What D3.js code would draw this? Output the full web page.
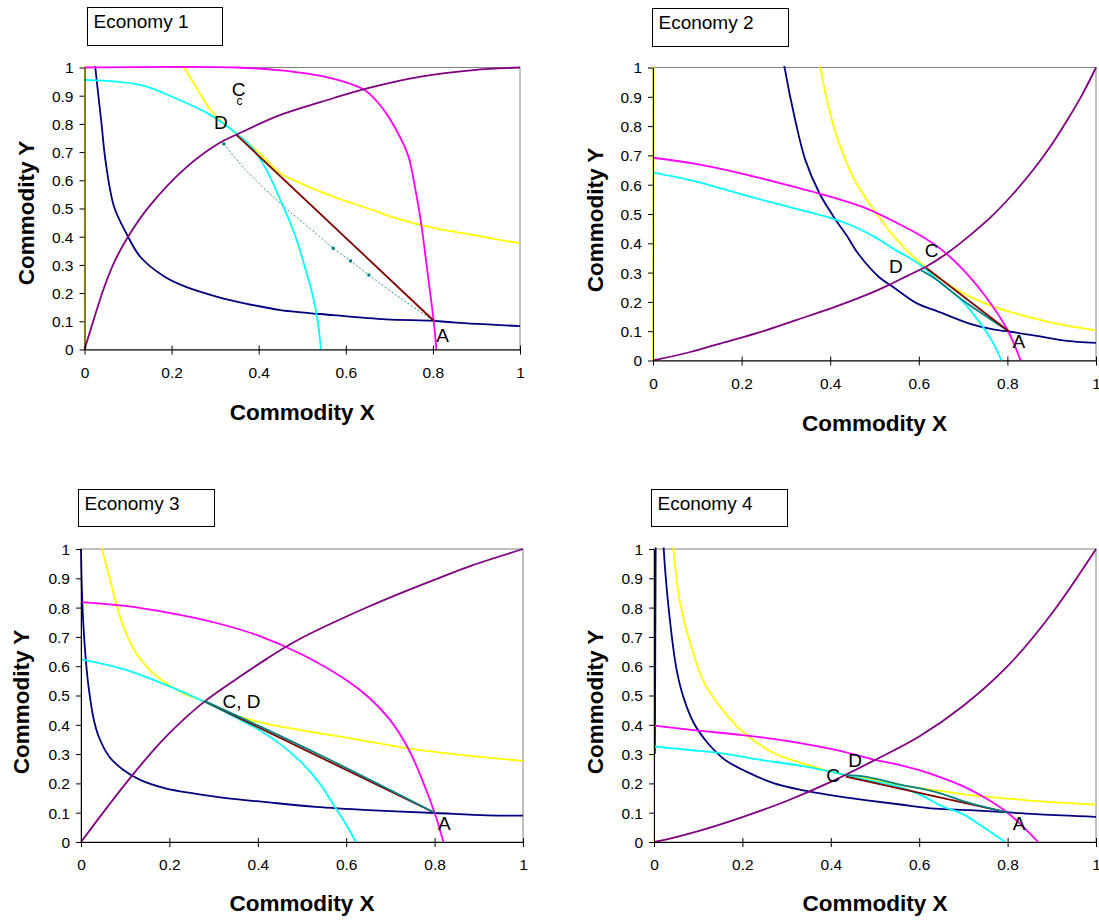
<!DOCTYPE html>
<html><head><meta charset="utf-8">
<script src="https://cdn.jsdelivr.net/npm/d3@7"></script>
<style>
body{margin:0;background:#fff}
svg{display:block}
text{font-family:"Liberation Sans",Arial,sans-serif;fill:#000}
</style>
</head><body>
<svg id="chart" width="1099" height="922"></svg>
<script>
// ---------- shared axis data ----------
const xTickValues = [0, 0.2, 0.4, 0.6, 0.8, 1];
const xTickLabels = ["0", "0.2", "0.4", "0.6", "0.8", "1"];
const yTickValues = [0, 0.1, 0.2, 0.3, 0.4, 0.5, 0.6, 0.7, 0.8, 0.9, 1];
const yTickLabels = ["0", "0.1", "0.2", "0.3", "0.4", "0.5", "0.6", "0.7", "0.8", "0.9", "1"];
const panelTitles = ["Economy 1", "Economy 2", "Economy 3", "Economy 4"];
const xAxisTitle = "Commodity X";
const yAxisTitle = "Commodity Y";

// ---------- Economy 1 ----------
const e1Yellow = [[0,0],[0.0008,1.1],null,[0.222,1.02],[0.229,1.0],[0.257,0.929],[0.289,0.85],[0.32,0.8],[0.353,0.761],[0.402,0.696],[0.45,0.625],[0.506,0.583],[0.571,0.542],[0.651,0.5],[0.716,0.465],[0.804,0.43],[0.893,0.406],[1,0.376]];
const e1Navy = [[0.023,1.05],[0.025,1.0],[0.039,0.802],[0.048,0.672],[0.068,0.506],[0.096,0.412],[0.128,0.329],[0.184,0.258],[0.233,0.222],[0.305,0.187],[0.37,0.163],[0.45,0.14],[0.571,0.122],[0.692,0.107],[0.802,0.102],[0.853,0.095],[1,0.083]];
const e1Magenta = [[0,1.0],[0.35,1.0],[0.45,0.99],[0.555,0.966],[0.643,0.92],[0.684,0.856],[0.72,0.767],[0.744,0.684],[0.76,0.566],[0.772,0.459],[0.788,0.27],[0.802,0.098],[0.808,0]];
const e1Cyan = [[0,0.956],[0.128,0.938],[0.209,0.891],[0.289,0.832],[0.353,0.761],[0.386,0.714],[0.418,0.637],[0.45,0.53],[0.482,0.412],[0.506,0.293],[0.523,0.199],[0.535,0.104],[0.543,0]];
const e1Purple = [[0,0],[0.02,0.1],[0.045,0.22],[0.07,0.315],[0.1,0.4],[0.15,0.51],[0.233,0.645],[0.305,0.728],[0.353,0.765],[0.45,0.832],[0.571,0.891],[0.651,0.927],[0.772,0.968],[0.893,0.991],[1,1]];
const e1Brown = [[0.349,0.761],[0.802,0.102]];
const e1Teal = [[0.32,0.729],[0.37,0.637],[0.45,0.518],[0.531,0.412],[0.571,0.359],[0.611,0.314],[0.653,0.264],[0.732,0.175],[0.802,0.102]];
const e1TealMarks = [[0.32,0.729],[0.571,0.359],[0.611,0.314],[0.653,0.264]];
const e1Labels = [["C",0.354,0.921,19],["c",0.356,0.883,12],["D",0.313,0.804,19],["A",0.822,0.051,19]];

// ---------- Economy 2 ----------
const e2Yellow = [[0,0],[0.0015,1.1],null,[0.374,1.04],[0.378,1.0],[0.4,0.844],[0.423,0.73],[0.455,0.616],[0.502,0.507],[0.558,0.399],[0.605,0.331],[0.637,0.291],[0.676,0.251],[0.716,0.217],[0.771,0.182],[0.834,0.154],[0.913,0.125],[1,0.103]];
const e2Navy = [[0.293,1.04],[0.297,1.0],[0.321,0.821],[0.344,0.684],[0.376,0.57],[0.408,0.49],[0.439,0.422],[0.463,0.365],[0.51,0.285],[0.542,0.251],[0.597,0.194],[0.637,0.171],[0.716,0.125],[0.771,0.105],[0.803,0.099],[0.874,0.082],[0.929,0.068],[1,0.06]];
const e2Magenta = [[0,0.692],[0.1,0.67],[0.2,0.638],[0.3,0.6],[0.4,0.559],[0.48,0.52],[0.55,0.47],[0.6,0.43],[0.65,0.38],[0.7,0.31],[0.75,0.22],[0.8,0.105],[0.83,0]];
const e2Cyan = [[0,0.641],[0.1,0.61],[0.2,0.567],[0.3,0.527],[0.4,0.487],[0.45,0.46],[0.5,0.422],[0.55,0.375],[0.6,0.33],[0.65,0.265],[0.7,0.2],[0.74,0.125],[0.765,0.068],[0.787,0]];
const e2Purple = [[0,0],[0.084,0.029],[0.163,0.063],[0.242,0.097],[0.321,0.137],[0.4,0.177],[0.479,0.222],[0.526,0.253],[0.573,0.288],[0.617,0.321],[0.66,0.362],[0.716,0.428],[0.763,0.49],[0.81,0.564],[0.858,0.65],[0.897,0.73],[0.937,0.825],[0.968,0.905],[1,1]];
const e2Brown = [[0.617,0.316],[0.803,0.1]];
const e2Teal = [[0.605,0.308],[0.637,0.279],[0.7,0.205],[0.755,0.148],[0.803,0.1]];
const e2Labels = [["C",0.629,0.377,19],["D",0.548,0.32,19],["A",0.826,0.064,19]];

// ---------- Economy 3 ----------
const e3Yellow = [[0.044,1.05],[0.048,1.0],[0.064,0.909],[0.088,0.771],[0.12,0.657],[0.167,0.571],[0.23,0.509],[0.278,0.48],[0.333,0.44],[0.413,0.406],[0.492,0.383],[0.61,0.354],[0.729,0.322],[0.848,0.299],[1,0.277]];
const e3Navy = [[0,1.0],[0.003,0.817],[0.009,0.657],[0.017,0.531],[0.029,0.417],[0.04,0.36],[0.064,0.291],[0.096,0.246],[0.135,0.211],[0.191,0.183],[0.254,0.166],[0.333,0.149],[0.413,0.137],[0.531,0.12],[0.65,0.109],[0.8,0.099],[0.919,0.091],[1,0.09]];
const e3Magenta = [[0,0.819],[0.1,0.806],[0.2,0.782],[0.3,0.75],[0.4,0.705],[0.5,0.64],[0.6,0.553],[0.65,0.495],[0.7,0.415],[0.74,0.32],[0.77,0.22],[0.8,0.1],[0.82,0]];
const e3Cyan = [[0,0.623],[0.1,0.588],[0.2,0.531],[0.28,0.478],[0.35,0.425],[0.4,0.385],[0.45,0.335],[0.5,0.27],[0.54,0.2],[0.57,0.13],[0.6,0.06],[0.622,0]];
const e3Purple = [[0,0],[0.06,0.12],[0.12,0.235],[0.18,0.34],[0.23,0.415],[0.28,0.48],[0.35,0.555],[0.42,0.625],[0.46,0.663],[0.5,0.697],[0.571,0.749],[0.65,0.803],[0.729,0.853],[0.808,0.9],[0.888,0.946],[1,1]];
const e3Brown = [[0.28,0.48],[0.8,0.1]];
const e3Teal = [[0.28,0.481],[0.4,0.398],[0.55,0.29],[0.7,0.177],[0.8,0.1]];
const e3Labels = [["C, D",0.363,0.479,19],["A",0.822,0.064,19]];

// ---------- Economy 4 ----------
const e4Yellow = [[0,0],[0.004,1.1],null,[0.042,1.05],[0.044,1.0],[0.059,0.817],[0.082,0.68],[0.114,0.543],[0.161,0.44],[0.209,0.366],[0.272,0.303],[0.335,0.269],[0.399,0.24],[0.478,0.217],[0.557,0.194],[0.636,0.177],[0.715,0.16],[0.794,0.149],[0.873,0.139],[1,0.128]];
const e4Navy = [[0.002,0.3],[0.004,1.1],null,[0.021,1.05],[0.022,1.0],[0.035,0.771],[0.051,0.589],[0.066,0.497],[0.09,0.406],[0.122,0.337],[0.161,0.28],[0.209,0.24],[0.272,0.2],[0.335,0.177],[0.399,0.16],[0.478,0.143],[0.557,0.128],[0.636,0.114],[0.715,0.109],[0.802,0.101],[0.873,0.094],[1,0.086]];
const e4Magenta = [[0,0.397],[0.1,0.38],[0.2,0.365],[0.3,0.345],[0.4,0.318],[0.45,0.3],[0.5,0.28],[0.55,0.265],[0.6,0.245],[0.65,0.22],[0.7,0.19],[0.75,0.15],[0.8,0.1],[0.84,0.045],[0.869,0]];
const e4Cyan = [[0,0.326],[0.082,0.314],[0.161,0.301],[0.241,0.28],[0.32,0.263],[0.399,0.24],[0.478,0.213],[0.557,0.187],[0.604,0.16],[0.652,0.122],[0.699,0.095],[0.739,0.057],[0.794,0]];
const e4Purple = [[0,0],[0.05,0.017],[0.1,0.037],[0.2,0.085],[0.3,0.14],[0.4,0.205],[0.5,0.28],[0.6,0.36],[0.7,0.465],[0.8,0.6],[0.9,0.78],[1,1]];
const e4Brown = [[0.434,0.223],[0.802,0.1]];
const e4Teal = [[0.434,0.228],[0.478,0.223],[0.557,0.196],[0.636,0.171],[0.715,0.133],[0.802,0.1]];
const e4Labels = [["D",0.455,0.28,19],["C",0.405,0.229,19],["A",0.826,0.064,19]];

// ---------- colours ----------
const colors = {yellow:"#FFFF00", navy:"#000080", magenta:"#FF00FF", cyan:"#00FFFF", purple:"#800080", brown:"#800000", teal:"#008080"};

// ---------- layout (pixels) ----------
const layouts = [
  {x0:84.5, x1:520, yT:67.5, yB:349.5, box:[87.5,7.5,135,38], yTitleX:26, yTitleY:213, xTitleY:412},
  {x0:653, x1:1096, yT:67.5, yB:360.5, box:[652.5,8.5,136,38], yTitleX:595, yTitleY:220, xTitleY:423},
  {x0:81, x1:523, yT:549, yB:842, box:[78.5,489.5,136,37], yTitleX:21, yTitleY:702, xTitleY:903},
  {x0:654, x1:1096, yT:549, yB:842, box:[651.5,489.5,136,37], yTitleX:595, yTitleY:702, xTitleY:903}
];

const panels = [
  {series:[["yellow",e1Yellow],["navy",e1Navy],["magenta",e1Magenta],["cyan",e1Cyan],["purple",e1Purple],["teal",e1Teal,true],["brown",e1Brown]], marks:e1TealMarks, labels:e1Labels},
  {series:[["yellow",e2Yellow],["navy",e2Navy],["magenta",e2Magenta],["cyan",e2Cyan],["purple",e2Purple],["teal",e2Teal],["brown",e2Brown]], marks:[], labels:e2Labels},
  {series:[["yellow",e3Yellow],["navy",e3Navy],["magenta",e3Magenta],["cyan",e3Cyan],["purple",e3Purple],["brown",e3Brown],["teal",e3Teal]], marks:[], labels:e3Labels},
  {series:[["yellow",e4Yellow],["navy",e4Navy],["magenta",e4Magenta],["cyan",e4Cyan],["purple",e4Purple],["brown",e4Brown],["teal",e4Teal]], marks:[], labels:e4Labels}
];

const svg = d3.select("#chart");
const defs = svg.append("defs");

panels.forEach((p, i) => {
  const L = layouts[i];
  const xs = d3.scaleLinear().domain([0, 1]).range([L.x0, L.x1]);
  const ys = d3.scaleLinear().domain([0, 1]).range([L.yB, L.yT]);
  const g = svg.append("g");

  g.append("rect").attr("x", L.box[0]).attr("y", L.box[1]).attr("width", L.box[2]).attr("height", L.box[3])
    .attr("fill", "#fff").attr("stroke", "#000").attr("stroke-width", 1);
  g.append("text").attr("x", L.box[0] + 6).attr("y", L.box[1] + 20)
    .attr("font-size", 19).text(panelTitles[i]);

  g.append("rect").attr("x", L.x0).attr("y", L.yT).attr("width", L.x1 - L.x0).attr("height", L.yB - L.yT)
    .attr("fill", "none").attr("stroke", "#808080").attr("stroke-width", 1);

  const cid = "clip" + i;
  defs.append("clipPath").attr("id", cid).append("rect")
    .attr("x", L.x0 - 1).attr("y", L.yT - 1.5).attr("width", L.x1 - L.x0 + 2).attr("height", L.yB - L.yT + 2.5);

  const plot = g.append("g").attr("clip-path", `url(#${cid})`);
  const lineCurve = d3.line().defined(d => d !== null).x(d => xs(d[0])).y(d => ys(d[1])).curve(d3.curveCatmullRom.alpha(0.5));
  const lineStraight = d3.line().x(d => xs(d[0])).y(d => ys(d[1]));

  p.series.forEach(([c, data, dotted]) => {
    const path = plot.append("path")
      .attr("d", (c === "brown" ? lineStraight : lineCurve)(data))
      .attr("fill", "none").attr("stroke", colors[c])
      .attr("stroke-width", dotted ? 1 : 1.8).attr("stroke-linejoin", "round");
    if (dotted) path.attr("stroke-dasharray", "2,2").attr("stroke", "#2a9090");
  });
  plot.selectAll(".mk").data(p.marks).enter().append("rect")
    .attr("x", d => xs(d[0]) - 1.5).attr("y", d => ys(d[1]) - 1.5).attr("width", 3).attr("height", 3)
    .attr("fill", colors.teal);

  const xAxis = d3.axisBottom(xs).tickValues(xTickValues).tickFormat((d, k) => xTickLabels[k]).tickSizeInner(0).tickSizeOuter(0);
  const yAxis = d3.axisLeft(ys).tickValues(yTickValues).tickFormat((d, k) => yTickLabels[k]).tickSizeInner(5).tickSizeOuter(0);

  const gx = g.append("g").attr("transform", `translate(0,${L.yB})`).call(xAxis);
  gx.select(".domain").attr("stroke", "#000");
  gx.selectAll(".tick line").remove();
  gx.selectAll(".tick").append("line").attr("y1", -4).attr("y2", 5).attr("stroke", "#000");
  gx.selectAll(".tick text").attr("font-size", 15.5).attr("font-family", "Liberation Sans, Arial, sans-serif")
    .attr("y", 23).attr("dy", "0.35em").attr("fill", "#000");

  const gy = g.append("g").attr("transform", `translate(${L.x0},0)`).call(yAxis);
  gy.select(".domain").attr("stroke", "#000");
  gy.selectAll(".tick line").attr("stroke", "#000");
  gy.selectAll(".tick text").attr("font-size", 15.5).attr("font-family", "Liberation Sans, Arial, sans-serif")
    .attr("x", -11).attr("dy", "0.35em").attr("fill", "#000");

  g.append("text").attr("x", (L.x0 + L.x1) / 2).attr("y", L.xTitleY).attr("dy", "0.35em")
    .attr("text-anchor", "middle").attr("font-size", 22.5).attr("font-weight", "bold").text(xAxisTitle);
  g.append("text").attr("transform", `translate(${L.yTitleX},${L.yTitleY}) rotate(-90)`).attr("dy", "0.35em")
    .attr("text-anchor", "middle").attr("font-size", 22.5).attr("font-weight", "bold").text(yAxisTitle);

  g.selectAll(".lbl").data(p.labels).enter().append("text")
    .attr("x", d => xs(d[1])).attr("y", d => ys(d[2])).attr("dy", "0.35em")
    .attr("text-anchor", "middle").attr("font-size", d => d[3]).text(d => d[0]);
});
</script>
</body></html>
